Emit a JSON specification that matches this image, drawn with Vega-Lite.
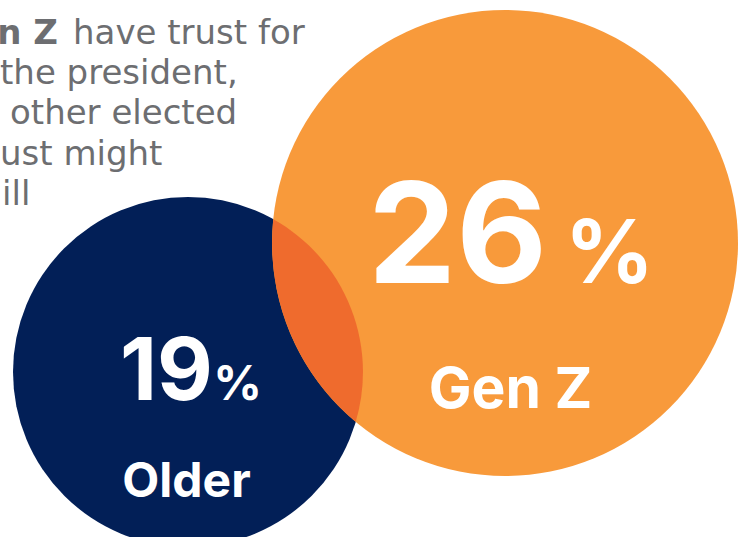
{
  "$schema": "https://vega.github.io/schema/vega-lite/v6.json",
  "width": 739,
  "height": 537,
  "padding": 0,
  "autosize": "none",
  "background": "#ffffff",
  "config": {"view": {"stroke": null}},
  "datasets": {
    "circles": [
      {"group": "Older", "value": 19, "x": 188, "y": 372},
      {"group": "Gen Z", "value": 26, "x": 505, "y": 243}
    ],
    "labels": [
      {"role": "big", "text": "26", "x": 457.5, "y": 283},
      {"role": "bigsym", "text": "%", "x": 609.5, "y": 283},
      {"role": "bigname", "text": "Gen Z", "x": 510.5, "y": 408},
      {"role": "mid", "text": "19", "x": 166.5, "y": 400},
      {"role": "midsym", "text": "%", "x": 237.5, "y": 400},
      {"role": "midname", "text": "Older", "x": 186.5, "y": 497},
      {"role": "notebold", "text": "Gen Z", "x": 58, "y": 44},
      {"role": "note", "text": "have trust for", "x": 73, "y": 44},
      {"role": "note", "text": "the president,", "x": 0, "y": 84},
      {"role": "note", "text": "other elected", "x": 10, "y": 124},
      {"role": "note", "text": "ust might", "x": 0, "y": 165},
      {"role": "note", "text": "ill", "x": 2, "y": 205}
    ]
  },
  "encoding": {
    "x": {"field": "x", "type": "quantitative", "axis": null, "scale": {"domain": [0, 739], "nice": false, "zero": false}},
    "y": {"field": "y", "type": "quantitative", "axis": null, "scale": {"domain": [0, 537], "nice": false, "zero": false, "reverse": true}}
  },
  "layer": [
    {
      "data": {"name": "circles"},
      "mark": {"type": "point", "shape": "circle", "filled": true, "opacity": 1, "strokeWidth": 0},
      "encoding": {
        "color": {"field": "group", "type": "nominal", "legend": null, "scale": {"domain": ["Older", "Gen Z"], "range": ["#021F57", "#F89A3B"]}},
        "size": {"field": "value", "type": "quantitative", "legend": null, "scale": {"type": "linear", "domain": [19, 26], "range": [122500, 217156], "zero": false}}
      }
    },
    {
      "data": {"name": "circles"},
      "transform": [{"filter": "datum.group === 'Older'"}],
      "mark": {"type": "point", "filled": true, "opacity": 1, "strokeWidth": 0, "size": 4, "color": "#EF6B2D",
        "shape": "M85.3,-152.8 A175,175 0 0,1 167.7,49.8 A233,233 0 0,1 85.3,-152.8 Z"}
    },
    {
      "data": {"name": "labels"},
      "transform": [{"filter": "datum.role === 'big'"}],
      "mark": {"type": "text", "font": "Inter", "fontWeight": "bold", "fontSize": 140, "color": "#ffffff", "align": "center", "baseline": "alphabetic"},
      "encoding": {"text": {"field": "text"}}
    },
    {
      "data": {"name": "labels"},
      "transform": [{"filter": "datum.role === 'bigsym'"}],
      "mark": {"type": "text", "font": "Inter", "fontWeight": "bold", "fontSize": 88, "color": "#ffffff", "align": "center", "baseline": "alphabetic"},
      "encoding": {"text": {"field": "text"}}
    },
    {
      "data": {"name": "labels"},
      "transform": [{"filter": "datum.role === 'bigname'"}],
      "mark": {"type": "text", "font": "Inter", "fontWeight": "bold", "fontSize": 57, "color": "#ffffff", "align": "center", "baseline": "alphabetic"},
      "encoding": {"text": {"field": "text"}}
    },
    {
      "data": {"name": "labels"},
      "transform": [{"filter": "datum.role === 'mid'"}],
      "mark": {"type": "text", "font": "Inter", "fontWeight": "bold", "fontSize": 86, "color": "#ffffff", "align": "center", "baseline": "alphabetic"},
      "encoding": {"text": {"field": "text"}}
    },
    {
      "data": {"name": "labels"},
      "transform": [{"filter": "datum.role === 'midsym'"}],
      "mark": {"type": "text", "font": "Inter", "fontWeight": "bold", "fontSize": 48, "color": "#ffffff", "align": "center", "baseline": "alphabetic"},
      "encoding": {"text": {"field": "text"}}
    },
    {
      "data": {"name": "labels"},
      "transform": [{"filter": "datum.role === 'midname'"}],
      "mark": {"type": "text", "font": "Inter", "fontWeight": "bold", "fontSize": 48, "color": "#ffffff", "align": "center", "baseline": "alphabetic"},
      "encoding": {"text": {"field": "text"}}
    },
    {
      "data": {"name": "labels"},
      "transform": [{"filter": "datum.role === 'notebold'"}],
      "mark": {"type": "text", "font": "DejaVu Sans", "fontWeight": "bold", "fontSize": 34, "color": "#6D6E71", "align": "right", "baseline": "alphabetic"},
      "encoding": {"text": {"field": "text"}}
    },
    {
      "data": {"name": "labels"},
      "transform": [{"filter": "datum.role === 'note'"}],
      "mark": {"type": "text", "font": "DejaVu Sans", "fontWeight": "normal", "fontSize": 34, "color": "#6D6E71", "align": "left", "baseline": "alphabetic"},
      "encoding": {"text": {"field": "text"}}
    }
  ]
}
